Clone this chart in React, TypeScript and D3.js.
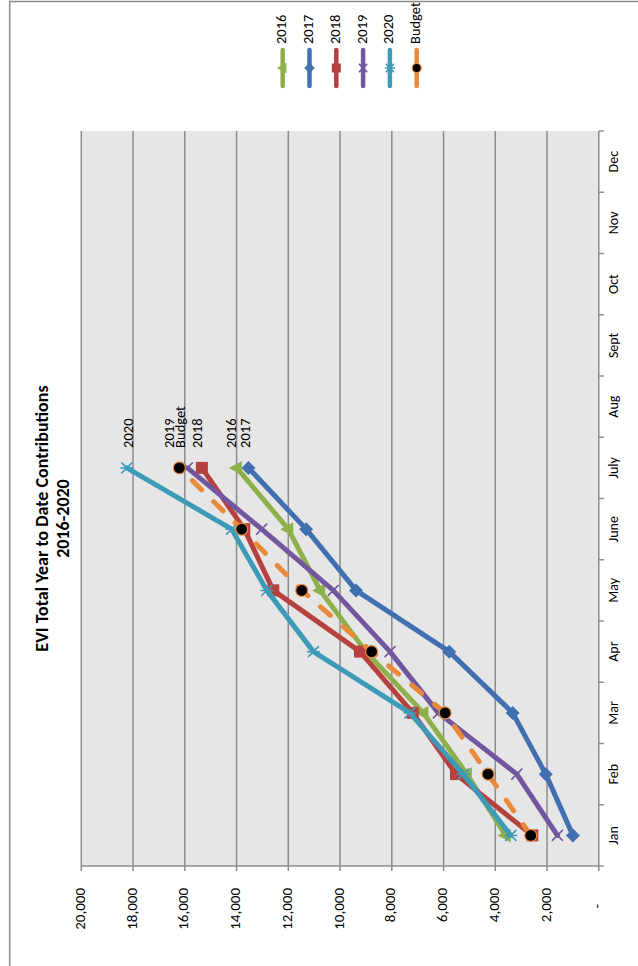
import { useEffect, useRef } from "react";
import * as d3 from "d3";

// chart values
const months = ["Jan", "Feb", "Mar", "Apr", "May", "June", "July", "Aug", "Sept", "Oct", "Nov", "Dec"];
const seriesNames = ["2016", "2017", "2018", "2019", "2020", "Budget"];
const v2016 = [3600, 5100, 6780, 9000, 10770, 12000, 13990];
const v2017 = [1000, 2050, 3330, 5780, 9380, 11310, 13540];
const v2018 = [2570, 5520, 7190, 9230, 12580, 13700, 15340];
const v2019 = [1600, 3170, 6200, 8070, 10260, 13030, 15900];
const v2020 = [3400, 5240, 7300, 11030, 12830, 14190, 18240];
const vBudget = [2630, 4280, 5940, 8780, 11480, 13800, 16210];
const valueTicks = [0, 2000, 4000, 6000, 8000, 10000, 12000, 14000, 16000, 18000, 20000];

const seriesValues = [v2016, v2017, v2018, v2019, v2020, vBudget];
const colors = ["#8db04a", "#4170b0", "#b7413e", "#72569e", "#3d9bb7", "#e98a3a"];
const markerKinds = ["triangle", "diamond", "square", "cross", "star", "circle"];
// small hand nudges of the end labels, as placed in the original
const labelNudge = [-4, -1.5, -3.5, -17, 3, 2.5];

const W = 966;
const H = 638;
const FONT = 'Carlito, Lato, "Open Sans", sans-serif';

function drawMarker(sel: any, kind: string, color: string, k = 1) {
  if (kind === "triangle") {
    sel.append("path").attr("d", `M0,${-8 * k}L${7 * k},${5 * k}L${-7 * k},${5 * k}Z`).attr("fill", color);
  } else if (kind === "diamond") {
    const r = 7 * k;
    sel.append("path").attr("d", `M0,${-r}L${r},0L0,${r}L${-r},0Z`).attr("fill", color);
  } else if (kind === "square") {
    const s = 12 * k;
    sel.append("rect").attr("x", -s / 2).attr("y", -s / 2).attr("width", s).attr("height", s).attr("fill", color);
  } else if (kind === "cross") {
    const r = 5.5 * k;
    sel.append("path").attr("d", `M${-r},${-r}L${r},${r}M${-r},${r}L${r},${-r}`)
      .attr("stroke", color).attr("stroke-width", 1.5).attr("fill", "none");
  } else if (kind === "star") {
    const r = 5.5 * k;
    sel.append("path").attr("d", `M${-r},${-r}L${r},${r}M${-r},${r}L${r},${-r}M0,${-r - 1}L0,${r + 1}`)
      .attr("stroke", color).attr("stroke-width", 1.5).attr("fill", "none");
  } else {
    sel.append("circle").attr("r", 6 * k).attr("fill", "#000").attr("stroke", color).attr("stroke-width", 1.2);
  }
}

export default function App() {
  const svgRef = useRef<SVGSVGElement>(null);

  useEffect(() => {
    if (!svgRef.current) return;
    const svg = d3.select(svgRef.current);
    svg.selectAll("*").remove();

    // whole chart is laid out landscape, then turned a quarter counter-clockwise
    const g = svg.append("g").attr("transform", `translate(0,${W}) rotate(-90)`).style("font-family", FONT);

    g.append("rect")
      .attr("x", -10).attr("y", 9.7).attr("width", 974.5).attr("height", 660)
      .attr("fill", "#fff").attr("stroke", "#8a8a8a").attr("stroke-width", 1.5);

    const x = d3.scaleBand().domain(months).range([100, 835]);
    const y = d3.scaleLinear().domain([0, 20000]).range([598.8, 81.3]);
    const xc = (i: number) => (x(months[i]) ?? 0) + x.bandwidth() / 2;

    // plot area
    g.append("rect")
      .attr("x", 100).attr("y", y(20000)).attr("width", 735).attr("height", y(0) - y(20000))
      .attr("fill", "#e6e6e6");

    g.selectAll(".grid")
      .data(valueTicks.filter((v) => v > 0))
      .enter()
      .append("line")
      .attr("x1", 100).attr("x2", 835)
      .attr("y1", (d) => y(d)).attr("y2", (d) => y(d))
      .attr("stroke", "#8c8c8c").attr("stroke-width", 1.5);

    // value axis
    g.append("line").attr("x1", 100).attr("x2", 100).attr("y1", y(20000)).attr("y2", y(0))
      .attr("stroke", "#8c8c8c").attr("stroke-width", 1.5);
    g.selectAll(".vtick")
      .data(valueTicks)
      .enter()
      .append("line")
      .attr("x1", 95).attr("x2", 100)
      .attr("y1", (d) => y(d)).attr("y2", (d) => y(d))
      .attr("stroke", "#8c8c8c").attr("stroke-width", 1.5);
    g.selectAll(".vlabel")
      .data(valueTicks)
      .enter()
      .append("text")
      .attr("x", (d) => (d === 0 ? 62 : 78))
      .attr("y", (d) => y(d))
      .attr("text-anchor", "end")
      .attr("dominant-baseline", "middle")
      .attr("font-size", 15)
      .attr("fill", "#000")
      .text((d) => (d === 0 ? "-" : d3.format(",")(d)));

    // category axis
    g.append("line").attr("x1", 100).attr("x2", 835).attr("y1", y(0)).attr("y2", y(0))
      .attr("stroke", "#8c8c8c").attr("stroke-width", 1.5);
    const edges = months.map((m) => x(m) ?? 0).concat([835]);
    g.selectAll(".ctick")
      .data(edges)
      .enter()
      .append("line")
      .attr("x1", (d) => d).attr("x2", (d) => d)
      .attr("y1", y(0)).attr("y2", y(0) + 5)
      .attr("stroke", "#8c8c8c").attr("stroke-width", 1.5);
    g.selectAll(".clabel")
      .data(months)
      .enter()
      .append("text")
      .attr("x", (_d, i) => xc(i))
      .attr("y", 615)
      .attr("text-anchor", "middle")
      .attr("dominant-baseline", "middle")
      .attr("font-size", 14)
      .attr("fill", "#000")
      .text((d) => d);

    // series
    const line = d3.line<number>().x((_d, i) => xc(i)).y((d) => y(d));
    seriesValues.forEach((vals, s) => {
      const isBudget = seriesNames[s] === "Budget";
      g.append("path")
        .attr("d", line(vals))
        .attr("fill", "none")
        .attr("stroke", colors[s])
        .attr("stroke-width", 5)
        .attr("stroke-linejoin", "round")
        .attr("stroke-linecap", "round")
        .attr("stroke-dasharray", isBudget ? "13,17" : null);
      vals.forEach((v, i) => {
        const m = g.append("g").attr("transform", `translate(${xc(i)},${y(v)})`);
        drawMarker(m, markerKinds[s], colors[s]);
      });
    });

    // end-of-line labels
    seriesValues.forEach((vals, s) => {
      const last = vals.length - 1;
      g.append("text")
        .attr("x", xc(last) + 20)
        .attr("y", y(vals[last]) + labelNudge[s])
        .attr("dominant-baseline", "middle")
        .attr("font-size", 14.5)
        .attr("fill", "#000")
        .text(seriesNames[s]);
    });

    // title
    const title = g.append("text")
      .attr("x", 447.5)
      .attr("text-anchor", "middle")
      .attr("font-weight", "bold")
      .attr("font-size", 18)
      .attr("fill", "#000");
    title.append("tspan").attr("x", 447.5).attr("y", 48).text("EVI Total Year to Date Contributions");
    title.append("tspan").attr("x", 447.5).attr("y", 68.5).text("2016-2020");

    // legend
    seriesNames.forEach((name, s) => {
      const ly = 282.7 + s * 26.8;
      const lg = g.append("g").attr("transform", `translate(0,${ly})`);
      lg.append("line")
        .attr("x1", 880).attr("x2", 916)
        .attr("stroke", colors[s]).attr("stroke-width", 4.5)
        .attr("stroke-linecap", "round");
      const mk = lg.append("g").attr("transform", "translate(898,0)");
      drawMarker(mk, markerKinds[s], colors[s], 0.75);
      lg.append("text")
        .attr("x", 922)
        .attr("dominant-baseline", "middle")
        .attr("font-size", 14.5)
        .attr("fill", "#000")
        .text(name);
    });
  }, []);

  return (
    <svg
      ref={svgRef}
      width={H}
      height={W}
      style={{ position: "absolute", left: 0, top: 0, background: "#fff" }}
    />
  );
}
